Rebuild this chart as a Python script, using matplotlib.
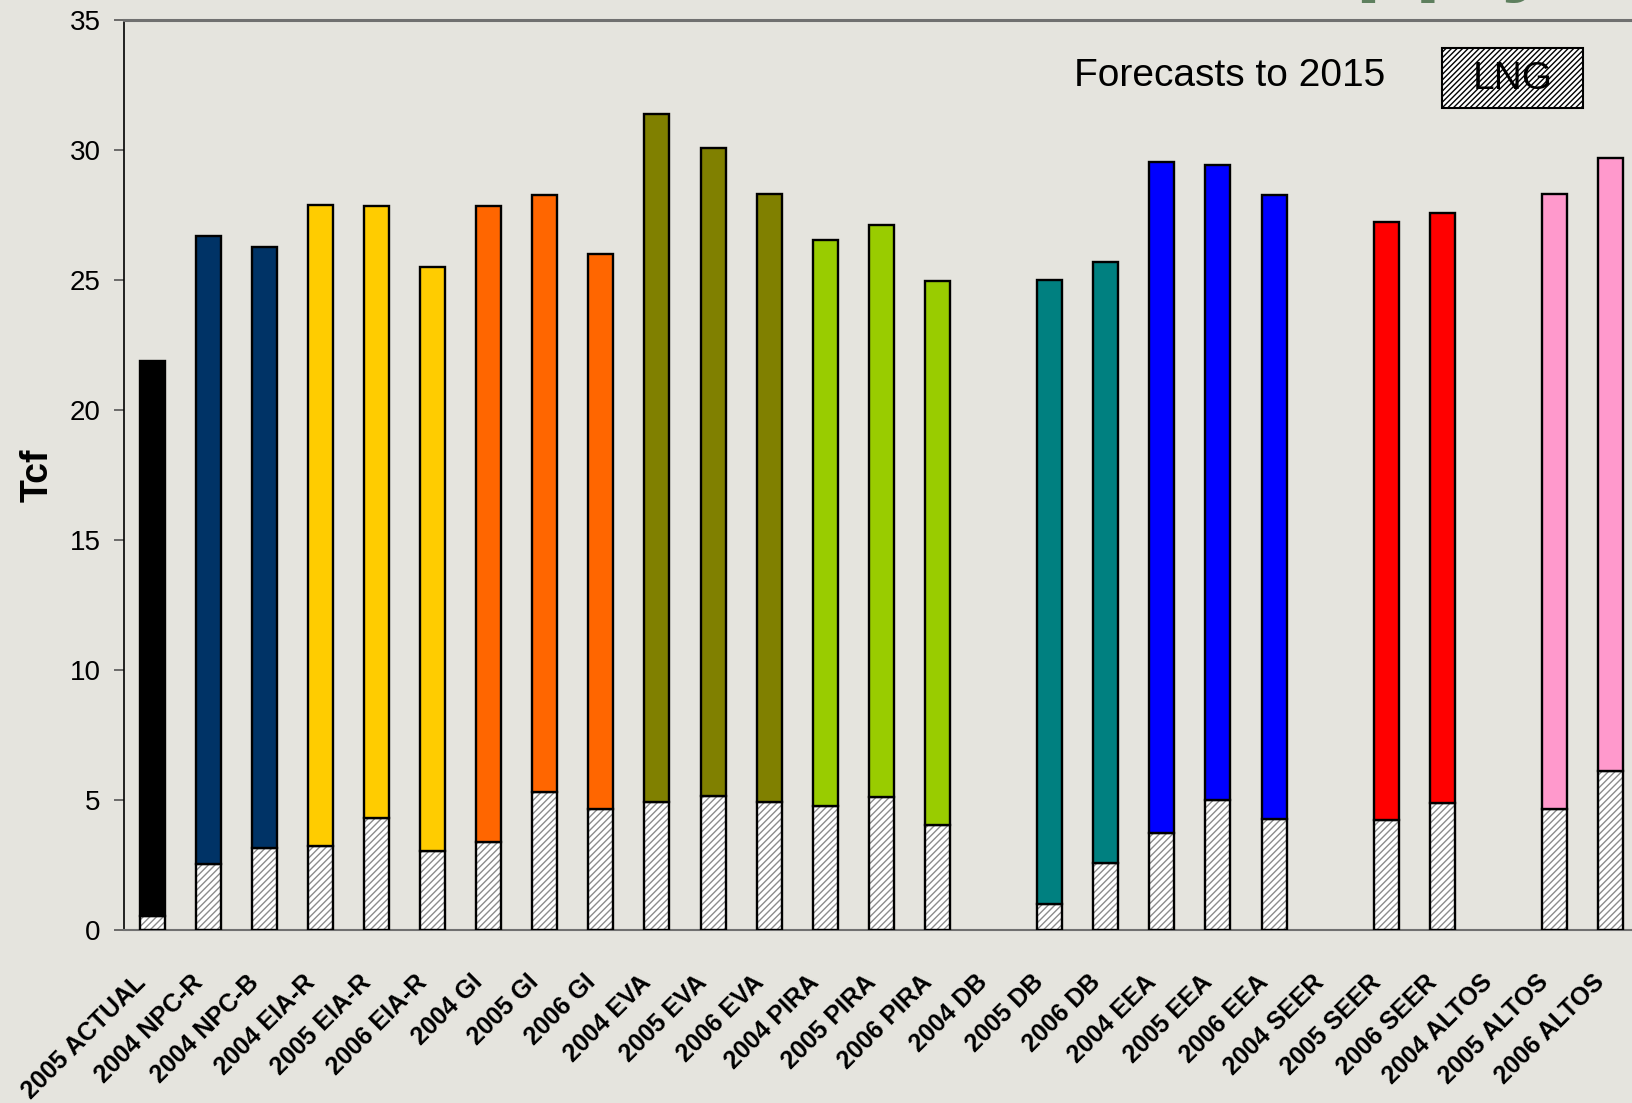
import numpy as np
import matplotlib
matplotlib.use("Agg")
import matplotlib.pyplot as plt
import matplotlib.transforms as mtransforms
from matplotlib.patches import Rectangle

plt.rcParams['font.family'] = ['Liberation Sans', 'DejaVu Sans']

# ---- data (Tcf) ----
labels = ["2005 ACTUAL", "2004 NPC-R", "2004 NPC-B", "2004 EIA-R", "2005 EIA-R", "2006 EIA-R",
          "2004 GI", "2005 GI", "2006 GI", "2004 EVA", "2005 EVA", "2006 EVA",
          "2004 PIRA", "2005 PIRA", "2006 PIRA", "2004 DB", "2005 DB", "2006 DB",
          "2004 EEA", "2005 EEA", "2006 EEA", "2004 SEER", "2005 SEER", "2006 SEER",
          "2004 ALTOS", "2005 ALTOS", "2006 ALTOS"]
totals = [21.88, 26.68, 26.28, 27.88, 27.84, 25.48,
          27.84, 28.28, 26.0, 31.36, 30.08, 28.32,
          26.52, 27.12, 24.96, 0, 25.0, 25.68,
          29.52, 29.4, 28.28, 0, 27.24, 27.56,
          0, 28.32, 29.68]
lng = [0.52, 2.52, 3.16, 3.24, 4.32, 3.04,
       3.36, 5.32, 4.64, 4.92, 5.16, 4.92,
       4.76, 5.12, 4.04, 0, 1.0, 2.56,
       3.72, 5.0, 4.28, 0, 4.24, 4.88,
       0, 4.64, 6.12]
colors = ["#000000", "#003366", "#003366", "#FFCC00", "#FFCC00", "#FFCC00",
          "#FF6600", "#FF6600", "#FF6600", "#808000", "#808000", "#808000",
          "#99CC00", "#99CC00", "#99CC00", "#008080", "#008080", "#008080",
          "#0000FF", "#0000FF", "#0000FF", "#FF0000", "#FF0000", "#FF0000",
          "#FF99CC", "#FF99CC", "#FF99CC"]

bg = "#E5E4DE"
fig = plt.figure(figsize=(16.32, 11.03), dpi=100, facecolor=bg)
ax = fig.add_axes([0.076, 0.157, 0.924, 0.825], facecolor=bg)

x = np.arange(len(labels))
tot = np.array(totals)
lng_a = np.array(lng)
has = tot > 0          # some forecasts have no bar
w = 0.445

# LNG part: hatch drawn in gray, then black outline on top
ax.bar(x[has], lng_a[has], w, color="white", edgecolor="#8c8c8c", hatch="/////",
       linewidth=0, zorder=2)
ax.bar(x[has], lng_a[has], w, fill=False, edgecolor="black", linewidth=1.7, zorder=3)
ax.bar(x[has], (tot - lng_a)[has], w, bottom=lng_a[has],
       color=[c for c, h in zip(colors, has) if h], edgecolor="black", linewidth=1.7, zorder=3)

ax.set_xlim(-0.5, 26.38)
ax.set_ylim(0, 35)
ax.set_yticks(range(0, 36, 5))
ax.tick_params(axis='y', labelsize=20, length=7, width=1.2, color="#555555", pad=10)
ax.tick_params(axis='x', length=0, pad=29)
ax.set_xticks(x)
ax.set_xticklabels(labels, rotation=45, ha='right', va='top', rotation_mode='anchor',
                   fontsize=18, fontweight='bold')
shift = mtransforms.ScaledTranslation(-18 / 100, 0, fig.dpi_scale_trans)
for lab in ax.get_xticklabels():
    lab.set_transform(lab.get_transform() + shift)
ax.set_ylabel("Tcf", fontsize=27, fontweight='bold', labelpad=10)

ax.spines['right'].set_visible(False)
ax.spines['left'].set_color("black")
ax.spines['left'].set_linewidth(1.2)
ax.spines['top'].set_color("#707070")
ax.spines['top'].set_linewidth(2.2)
ax.spines['bottom'].set_color("#707070")
ax.spines['bottom'].set_linewidth(1.5)

ax.text(19.2, 32.85, "Forecasts to 2015", fontsize=28, ha='center', va='center')
ax.add_patch(Rectangle((23.0, 31.62), 2.51, 2.31, facecolor='white', edgecolor='black',
                       hatch='//////', linewidth=1.5, zorder=4))
ax.text(24.26, 32.72, "LNG", fontsize=28, ha='center', va='center', zorder=5)

# cropped slide title above the plot
fig.text(1555 / 1632, 1 + 17 / 1103, "Supply", fontsize=70, fontweight='bold',
         color="#5E7F5E", ha='right', va='baseline')

fig.savefig("out.png", dpi=100, facecolor=bg)
